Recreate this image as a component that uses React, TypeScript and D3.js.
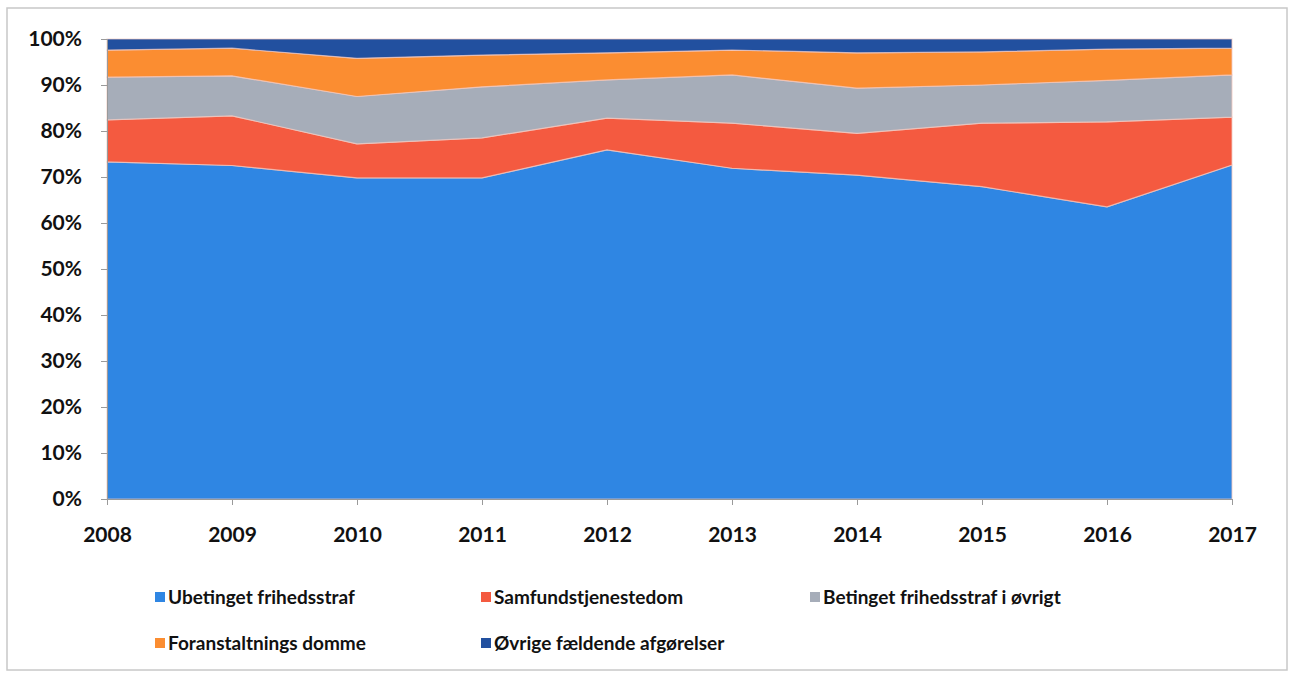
import React, { useRef, useEffect } from 'react';
import * as d3 from 'd3';

const years = [2008, 2009, 2010, 2011, 2012, 2013, 2014, 2015, 2016, 2017];
const ubetinget = [73.3, 72.5, 69.8, 69.8, 75.9, 71.9, 70.4, 67.9, 63.5, 72.6];
const samfund = [9.1, 10.8, 7.4, 8.7, 6.9, 9.8, 9.1, 13.8, 18.5, 10.4];
const betinget = [9.3, 8.7, 10.3, 11.1, 8.3, 10.5, 9.8, 8.3, 9.0, 9.2];
const foranstalt = [5.9, 6.0, 8.3, 6.9, 5.9, 5.4, 7.7, 7.2, 6.8, 5.8];
const oevrige = [2.4, 2.0, 4.2, 3.5, 3.0, 2.4, 3.0, 2.8, 2.2, 2.0];

const seriesNames = [
  'Ubetinget frihedsstraf',
  'Samfundstjenestedom',
  'Betinget frihedsstraf i øvrigt',
  'Foranstaltnings domme',
  'Øvrige fældende afgørelser',
];
const seriesColors = ['#2f86e3', '#f45a40', '#a6adb9', '#fb8d31', '#22509f'];
const yTicks = [0, 0.1, 0.2, 0.3, 0.4, 0.5, 0.6, 0.7, 0.8, 0.9, 1];

const App = () => {
  const ref = useRef<SVGSVGElement>(null);

  useEffect(() => {
    if (!ref.current) return;
    const width = 1294;
    const height = 678;
    const left = 107, right = 1232, top = 39, bottom = 499;
    const font = 'Lato, "Open Sans", sans-serif';

    const svg = d3.select(ref.current);
    svg.selectAll('*').remove();
    svg.attr('width', width).attr('height', height);

    svg.append('rect').attr('width', width).attr('height', height).attr('fill', '#fff');
    svg.append('rect')
      .attr('x', 7).attr('y', 8).attr('width', 1280).attr('height', 662)
      .attr('fill', 'none').attr('stroke', '#c8c8c8').attr('stroke-width', 1.5);

    const keys = ['a', 'b', 'c', 'd', 'e'];
    const cols = [ubetinget, samfund, betinget, foranstalt, oevrige];
    const table = years.map((y, i) => {
      const row: any = { year: y };
      keys.forEach((k, j) => { row[k] = cols[j][i]; });
      return row;
    });

    const stack = d3.stack().keys(keys).offset(d3.stackOffsetExpand);
    const layers = stack(table);

    const x = d3.scaleLinear().domain([2008, 2017]).range([left, right]);
    const y = d3.scaleLinear().domain([0, 1]).range([bottom, top]);

    const area = d3.area<any>()
      .x(d => x(d.data.year))
      .y0(d => y(d[0]))
      .y1(d => y(d[1]));

    svg.append('g').selectAll('path')
      .data(layers)
      .enter()
      .append('path')
      .attr('d', area)
      .attr('fill', (_d, i) => seriesColors[i])
      .attr('stroke', '#f2c9c0')
      .attr('stroke-opacity', 0.7)
      .attr('stroke-width', 1.2);

    // axes
    const yAxis = svg.append('g')
      .attr('transform', `translate(${left},0)`)
      .call(d3.axisLeft(y).tickValues(yTicks).tickFormat(d3.format('.0%')).tickSize(6).tickPadding(19));
    yAxis.select('.domain').attr('stroke', '#9a9a9a');
    yAxis.selectAll('.tick line').attr('stroke', '#9a9a9a');
    yAxis.selectAll('text')
      .attr('font-family', font).attr('font-size', 21).attr('font-weight', 700).attr('fill', '#111');

    const xAxis = svg.append('g')
      .attr('transform', `translate(0,${bottom})`)
      .call(d3.axisBottom(x).tickValues(years).tickFormat(d3.format('d')).tickSize(6).tickPadding(22));
    xAxis.select('.domain').attr('stroke', '#9a9a9a');
    xAxis.selectAll('.tick line').attr('stroke', '#9a9a9a');
    xAxis.selectAll('text')
      .attr('font-family', font).attr('font-size', 21).attr('font-weight', 700).attr('fill', '#111');

    // legend
    const legendX = [155, 481, 810];
    const legendY = [597, 643];
    const legend = svg.append('g');
    seriesNames.forEach((name, i) => {
      const lx = legendX[i % 3];
      const ly = legendY[Math.floor(i / 3)];
      legend.append('rect')
        .attr('x', lx).attr('y', ly - 5).attr('width', 10).attr('height', 10)
        .attr('fill', seriesColors[i]);
      legend.append('text')
        .attr('x', lx + 13).attr('y', ly)
        .attr('dy', '0.35em')
        .attr('font-family', font).attr('font-size', 19).attr('font-weight', 700)
        .attr('fill', '#111')
        .text(name);
    });
  }, []);

  return <svg ref={ref} style={{ display: 'block', position: 'absolute', left: 0, top: 0 }} />;
};

export default App;
